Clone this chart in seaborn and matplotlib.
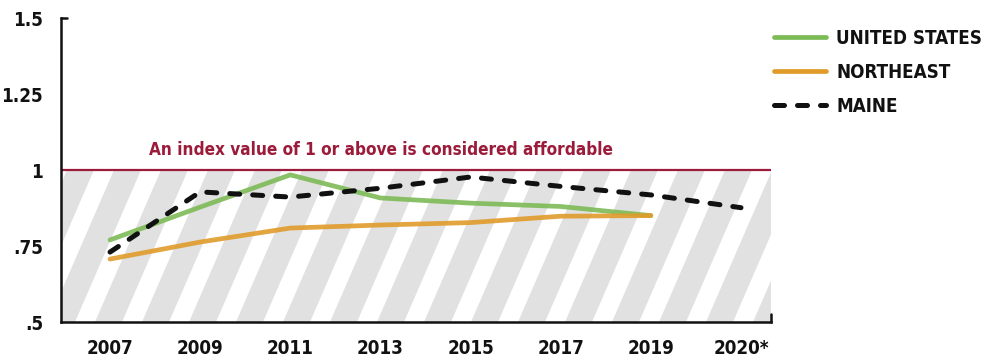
import pandas as pd
import matplotlib.pyplot as plt
import seaborn as sns
from matplotlib.patches import Rectangle, Polygon

# Data
years = ["2007", "2009", "2011", "2013", "2015", "2017", "2019", "2020*"]
united_states = [0.770, 0.878, 0.984, 0.908, 0.891, 0.880, 0.850]
northeast = [0.707, 0.763, 0.809, 0.819, 0.827, 0.848, 0.850]
maine = [0.730, 0.928, 0.911, 0.940, 0.977, 0.946, 0.918, 0.876]

series_names = ["UNITED STATES", "NORTHEAST", "MAINE"]
series_values = [united_states, northeast, maine]
colors = ["#7dbb57", "#e09b2a", "#111111"]

rows = []
for name, vals in zip(series_names, series_values):
    for i, v in enumerate(vals):
        rows.append({"series": name, "pos": i, "year": years[i], "index": v})
df = pd.DataFrame(rows)

sns.set_style("white")
plt.rcParams["font.family"] = ["DejaVu Sans"]
plt.rcParams["font.stretch"] = "condensed"
plt.rcParams["font.weight"] = "bold"
plt.rcParams["text.color"] = "#111111"

fig = plt.figure(figsize=(9.81, 3.6), dpi=100)
ax = fig.add_axes([61 / 981, 1 - 322 / 360, 710 / 981, 304 / 360])

xmin, xmax = -0.544, 7.333
ymin, ymax = 0.5, 1.5
ax.set_xlim(xmin, xmax)
ax.set_ylim(ymin, ymax)

# grey striped "below affordable" band
grey = Rectangle((xmin, 0.5), xmax - xmin, 0.5, facecolor="#e1e1e1", edgecolor="none", zorder=0)
ax.add_patch(grey)
xscale = 710 / (xmax - xmin)   # px per x unit
yscale = 304 / (ymax - ymin)   # px per y unit
period, white_w, shift, band_h, offset = 47, 20, 66, 152, 14
for k in range(-4, 18):
    x0 = k * period + offset
    pts = [(x0, 0), (x0 + white_w, 0), (x0 + white_w + shift, band_h), (x0 + shift, band_h)]
    pts = [(xmin + px / xscale, 0.5 + py / yscale) for px, py in pts]
    stripe = Polygon(pts, facecolor="white", edgecolor="none", zorder=0.5)
    ax.add_patch(stripe)
    stripe.set_clip_path(grey)

ax.axhline(1.0, color="#9b1b3b", lw=1.6, zorder=1)
ax.text(3.0, 1.066, "An index value of 1 or above is considered affordable",
        ha="center", va="center", color="#9b1b3b", fontsize=12.3, fontweight="bold")

for name, col in zip(series_names, colors):
    sub = df[df["series"] == name]
    if name == "MAINE":
        sns.lineplot(data=sub, x="pos", y="index", ax=ax, color=col, lw=3.6,
                     label=name, zorder=4)
        ax.lines[-1].set_dashes([2.0, 2.6])
        ax.lines[-1].set_dash_capstyle("round")
    else:
        sns.lineplot(data=sub, x="pos", y="index", ax=ax, color=col, lw=3.4,
                     label=name, alpha=0.9, zorder=3)
        ax.lines[-1].set_solid_capstyle("round")

ax.set_xticks(range(len(years)))
ax.set_xticklabels(years)
ax.set_yticks([0.5, 0.75, 1.0, 1.25, 1.5])
ax.set_yticklabels([".5", ".75", "1", "1.25", "1.5"])
ax.tick_params(axis="both", length=0, labelsize=13.5, labelcolor="#111111")
ax.tick_params(axis="x", pad=12)
ax.tick_params(axis="y", pad=13)
ax.set_xlabel("")
ax.set_ylabel("")

for side in ["top", "right"]:
    ax.spines[side].set_visible(False)
for side in ["left", "bottom"]:
    ax.spines[side].set_linewidth(1.8)
    ax.spines[side].set_color("#111111")
    ax.spines[side].set_zorder(5)

# small end caps on the axes
ax.plot([0, 0.008], [1, 1], transform=ax.transAxes, color="#111111", lw=1.8, clip_on=False, zorder=5)
ax.plot([1, 1], [0, 0.025], transform=ax.transAxes, color="#111111", lw=1.8, clip_on=False, zorder=5)

handles, labels = ax.get_legend_handles_labels()
leg = ax.legend(handles, labels, loc="upper left", bbox_to_anchor=(766 / 981, 1 - 21 / 360),
                bbox_transform=fig.transFigure, frameon=False, handlelength=2.8,
                handletextpad=0.55, labelspacing=0.8, borderaxespad=0,
                labelcolor="#111111",
                prop={"size": 13.5, "weight": "bold", "stretch": "condensed"})
for line in leg.get_lines():
    line.set_alpha(1)

fig.savefig("out.png", dpi=100)
